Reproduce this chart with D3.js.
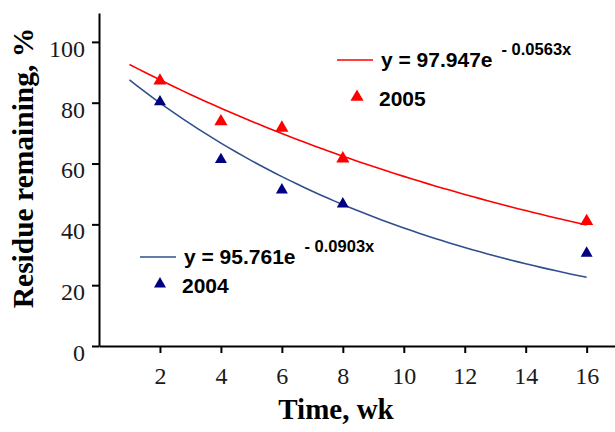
<!DOCTYPE html>
<html>
<head>
<meta charset="utf-8">
<script src="https://cdn.jsdelivr.net/npm/d3@7"></script>
<style>
  body { margin: 0; background: #fff; }
  svg { display: block; }
  .tick text { font-family: "Liberation Serif", "Times New Roman", serif; font-size: 24px; fill: #1a1a1a; }
  .legend text { font-family: "Liberation Sans", Arial, sans-serif; font-weight: bold; fill: #000; }
</style>
</head>
<body>
<div id="chart-wrapper"></div>
<script>
// sampling weeks and residue remaining (%)
const weeks = [2, 4, 6, 8, 16];
const residue2004 = [80.3, 61.3, 51.3, 46.7, 30.5];
const residue2005 = [87.2, 73.8, 71.7, 61.6, 41.0];

// exponential trend lines shown on the chart: y = a * e^(k x)
const years = ["2004", "2005"];
const trendA = [95.761, 97.947];
const trendK = [-0.0903, -0.0563];
const trendFrom = 1, trendTo = 16;

const xTicks = [2, 4, 6, 8, 10, 12, 14, 16];
const yTicks = [0, 20, 40, 60, 80, 100];

const width = 615, height = 432;

const svg = d3.select("#chart-wrapper")
    .append("svg")
    .attr("width", width)
    .attr("height", height);

const x = d3.scaleLinear().domain([0, 16.93]).range([99, 615]);
const y = d3.scaleLinear().domain([0, 109.5]).range([346, 13]);

const lineColor = { "2004": "#2f4f8c", "2005": "#ff0000" };
const markColor = { "2004": "#000080", "2005": "#ff0000" };
const markSize = { "2004": 62, "2005": 75 };

// axes
const xAxis = svg.append("g")
    .attr("transform", `translate(0,${y(0)})`)
    .call(d3.axisBottom(x).tickValues(xTicks).tickSize(7).tickSizeOuter(0).tickPadding(14));
const yAxis = svg.append("g")
    .attr("transform", `translate(${x(0)},0)`)
    .call(d3.axisLeft(y).tickValues(yTicks).tickSize(7).tickSizeOuter(0).tickPadding(7));

[xAxis, yAxis].forEach(g => {
    g.select(".domain").attr("stroke", "#000").attr("stroke-width", 2);
    g.selectAll(".tick line").attr("stroke", "#000").attr("stroke-width", 2);
});
yAxis.selectAll(".tick text").attr("dy", "0.6em");

// trend curves
const line = d3.line().x(d => x(d[0])).y(d => y(d[1]));
years.forEach((yr, i) => {
    const pts = d3.range(trendFrom, trendTo + 0.001, 0.25)
        .map(t => [t, trendA[i] * Math.exp(trendK[i] * t)]);
    svg.append("path")
        .datum(pts)
        .attr("d", line)
        .attr("fill", "none")
        .attr("stroke", lineColor[yr])
        .attr("stroke-width", 1.6);
});

// data points
const series = { "2004": residue2004, "2005": residue2005 };
years.forEach(yr => {
    svg.append("g")
        .selectAll("path")
        .data(weeks.map((w, i) => [w, series[yr][i]]))
        .join("path")
        .attr("d", d3.symbol(d3.symbolTriangle, markSize[yr]))
        .attr("transform", d => `translate(${x(d[0])},${y(d[1])})`)
        .attr("fill", markColor[yr]);
});

// legends
function addLegend(yr, i, lx, ly, rowGap) {
    const g = svg.append("g").attr("class", "legend");
    g.append("line")
        .attr("x1", lx).attr("x2", lx + 36)
        .attr("y1", ly).attr("y2", ly)
        .attr("stroke", lineColor[yr]).attr("stroke-width", 1.6);
    const t = g.append("text")
        .attr("x", lx + 44).attr("y", ly + 7)
        .style("font-size", "21px");
    t.append("tspan").text(`y = ${trendA[i]}e`);
    t.append("tspan")
        .attr("dx", 9).attr("dy", -12)
        .style("font-size", "16.5px")
        .text(`- ${Math.abs(trendK[i])}x`);
    g.append("path")
        .attr("d", d3.symbol(d3.symbolTriangle, markSize[yr]))
        .attr("transform", `translate(${lx + 20},${ly + rowGap})`)
        .attr("fill", markColor[yr]);
    g.append("text")
        .attr("x", lx + 42).attr("y", ly + rowGap + 9)
        .style("font-size", "21px")
        .text(yr);
}
addLegend("2005", 1, 337, 60, 37);
addLegend("2004", 0, 140, 257, 27);

// axis titles
svg.append("text")
    .attr("x", 336).attr("y", 419)
    .attr("text-anchor", "middle")
    .style("font-family", "'Liberation Serif', 'Times New Roman', serif")
    .style("font-weight", "bold")
    .style("font-size", "29px")
    .text("Time, wk");
svg.append("text")
    .attr("transform", "translate(33,168) rotate(-90)")
    .attr("text-anchor", "middle")
    .style("font-family", "'Liberation Serif', 'Times New Roman', serif")
    .style("font-weight", "bold")
    .style("font-size", "29.5px")
    .text("Residue remaining, %");
</script>
</body>
</html>
